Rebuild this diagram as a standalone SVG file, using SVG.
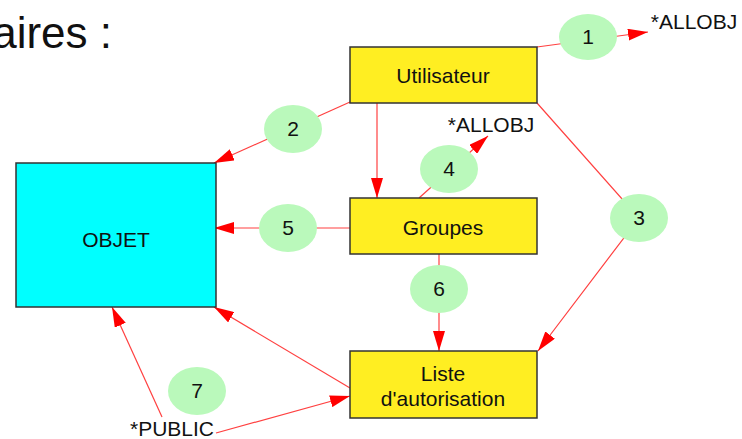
<svg xmlns="http://www.w3.org/2000/svg" width="742" height="439" viewBox="0 0 742 439">
  <defs>
    <marker id="arrow" markerUnits="userSpaceOnUse" markerWidth="22" markerHeight="12" refX="20" refY="6" orient="auto">
      <path d="M0,0 L20,6 L0,12 Z" fill="#ff0000"/>
    </marker>
    <style>
      text { font-family: "Liberation Sans", Arial, sans-serif; fill: #111; }
      .lbl { font-size: 21px; text-anchor: middle; }
      .title { font-size: 44px; text-anchor: end; }
      .box { stroke: #333; stroke-width: 1.5; }
      .user { fill: #ffee22; }
      .obj { fill: #00ffff; }
      .badge { fill: #baf9bb; }
      .link { fill: none; stroke: #ff4040; stroke-width: 1.2; }
      .arr { marker-end: url(#arrow); }
    </style>
  </defs>

  <rect width="742" height="439" fill="#ffffff"/>

  <text class="title" x="112" y="48">aires :</text>

  <!-- connectors (drawn under the numbered badges) -->
  <g id="connectors">
    <line class="link arr" x1="537" y1="47" x2="648" y2="32"/>
    <line class="link arr" x1="350" y1="102" x2="214" y2="163"/>
    <line class="link arr" x1="377" y1="103" x2="377" y2="198"/>
    <polyline class="link arr" points="537,103 639,218 538,351"/>
    <line class="link arr" x1="419" y1="198" x2="488" y2="136"/>
    <line class="link arr" x1="350" y1="228" x2="214" y2="228"/>
    <line class="link arr" x1="439" y1="254" x2="439" y2="351"/>
    <line class="link arr" x1="350" y1="388" x2="214" y2="307"/>
    <line class="link arr" x1="162" y1="417" x2="112" y2="307"/>
    <line class="link arr" x1="216" y1="433" x2="350" y2="396"/>
  </g>

  <g id="objet">
    <rect class="box obj" x="16" y="163" width="200" height="144"/>
    <text class="lbl" x="116" y="247">OBJET</text>
  </g>

  <g id="utilisateur">
    <rect class="box user" x="350" y="47" width="187" height="56"/>
    <text class="lbl" x="443" y="83">Utilisateur</text>
  </g>

  <g id="groupes">
    <rect class="box user" x="350" y="198" width="187" height="56"/>
    <text class="lbl" x="443" y="235">Groupes</text>
  </g>

  <g id="liste">
    <rect class="box user" x="350" y="351" width="187" height="67"/>
    <text class="lbl" x="443" y="381">Liste</text>
    <text class="lbl" x="443" y="406">d'autorisation</text>
  </g>

  <g id="allobj-1">
    <text class="lbl" x="694" y="29">*ALLOBJ</text>
  </g>
  <g id="allobj-2">
    <text class="lbl" x="491" y="132">*ALLOBJ</text>
  </g>
  <g id="public">
    <text class="lbl" x="172" y="436">*PUBLIC</text>
  </g>

  <g id="badge-1"><ellipse class="badge" cx="588" cy="37" rx="29" ry="23"/><text class="lbl" x="588" y="44">1</text></g>
  <g id="badge-2"><ellipse class="badge" cx="293" cy="129" rx="29" ry="24"/><text class="lbl" x="293" y="136">2</text></g>
  <g id="badge-3"><ellipse class="badge" cx="639" cy="218" rx="29" ry="24"/><text class="lbl" x="639" y="225">3</text></g>
  <g id="badge-4"><ellipse class="badge" cx="449" cy="169" rx="29" ry="24"/><text class="lbl" x="449" y="176">4</text></g>
  <g id="badge-5"><ellipse class="badge" cx="288" cy="228" rx="29" ry="24"/><text class="lbl" x="288" y="235">5</text></g>
  <g id="badge-6"><ellipse class="badge" cx="439" cy="289" rx="29" ry="24"/><text class="lbl" x="439" y="296">6</text></g>
  <g id="badge-7"><ellipse class="badge" cx="197" cy="391" rx="29" ry="24"/><text class="lbl" x="197" y="398">7</text></g>
</svg>
